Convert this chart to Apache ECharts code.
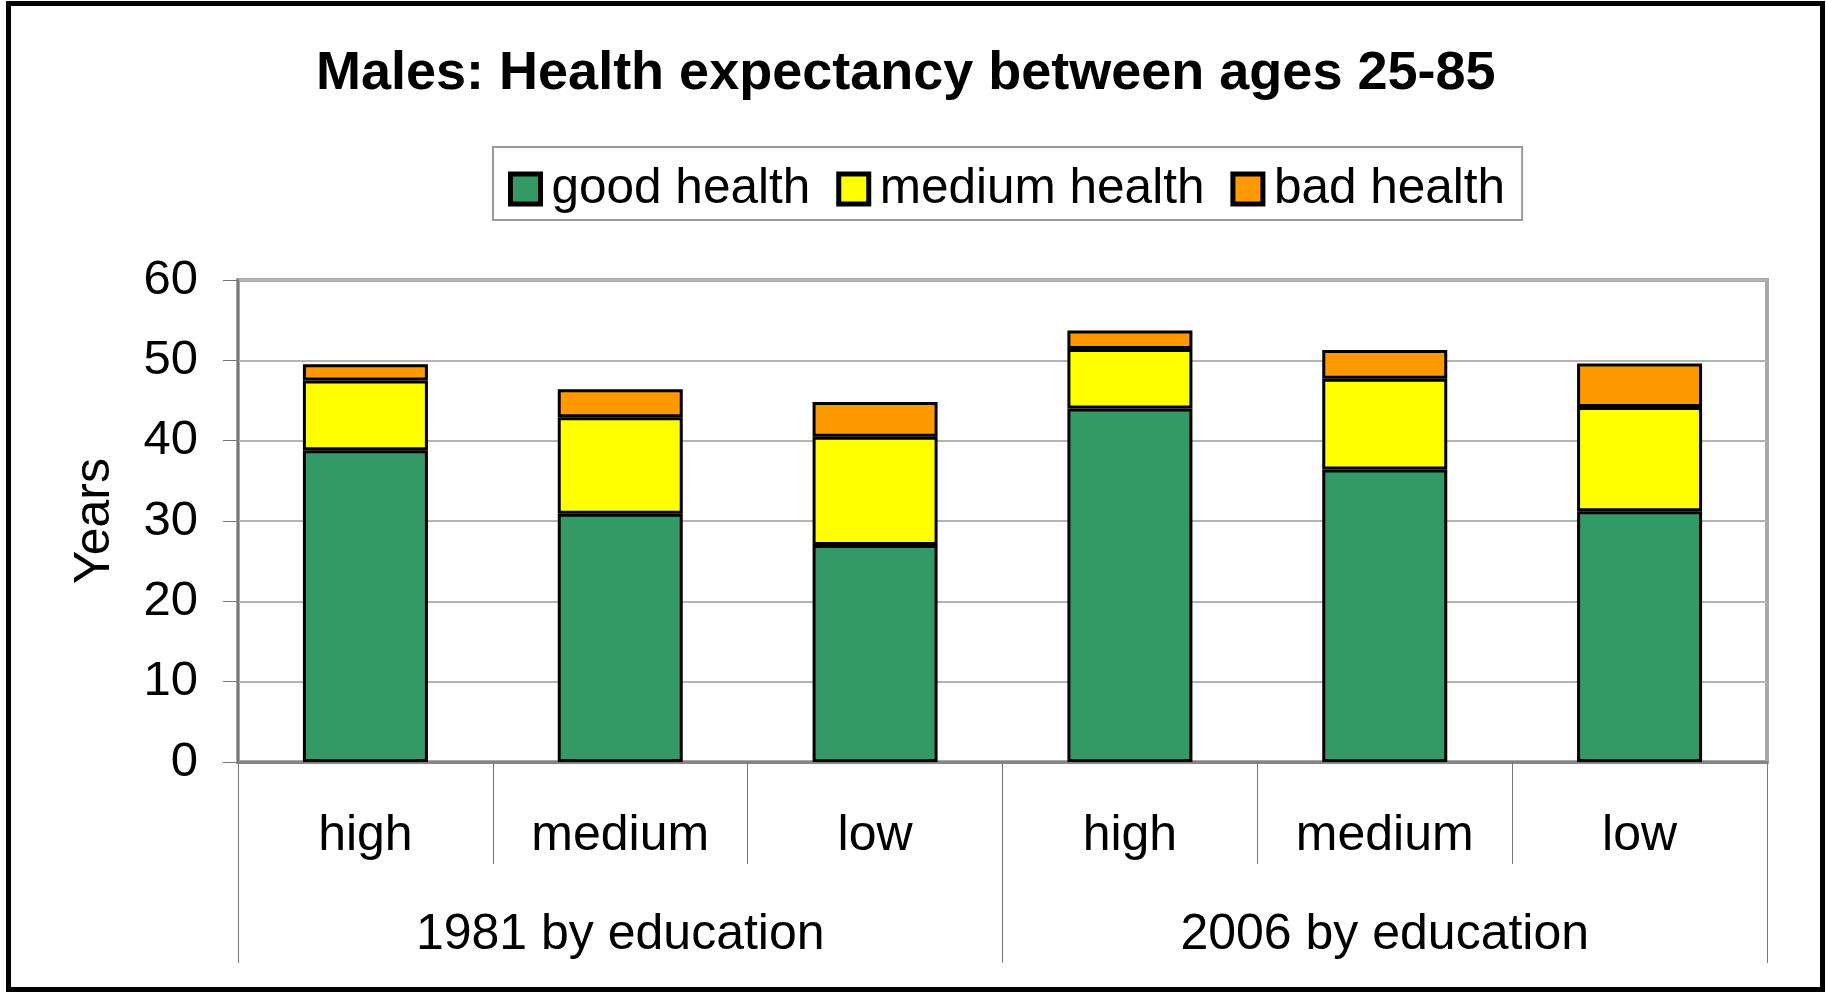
<!DOCTYPE html>
<html>
<head>
<meta charset="utf-8">
<script src="https://cdn.jsdelivr.net/npm/echarts@6/dist/echarts.min.js"></script>
<style>
html,body{margin:0;padding:0;background:#fff;}
#chart{width:1826px;height:993px;}
</style>
</head>
<body>
<div id="chart"></div>
<script>
const categories = ['high', 'medium', 'low', 'high', 'medium', 'low'];
const groups = ['1981 by education', '2006 by education'];
const goodHealth = [38.8, 30.9, 27.0, 44.0, 36.4, 31.2];
const mediumHealth = [8.7, 12.0, 13.5, 7.4, 11.3, 13.0];
const badHealth = [2.0, 3.5, 4.3, 2.3, 3.6, 5.4];
const seriesNames = ['good health', 'medium health', 'bad health'];
const colors = ['#339966', '#FFFF00', '#FF9900'];

const FONT = '"Liberation Sans", Arial, sans-serif';
const chart = echarts.init(document.getElementById('chart'), null, {renderer: 'canvas'});

function bar(name, data, color) {
  return {
    name: name, type: 'bar', stack: 'total', data: data,
    barWidth: 125,
    itemStyle: {color: color, borderColor: '#000', borderWidth: 3},
    emphasis: {disabled: true}
  };
}

chart.setOption({
  animation: false,
  backgroundColor: '#fff',
  textStyle: {fontFamily: FONT, color: '#000'},
  title: {
    text: 'Males: Health expectancy between ages 25-85',
    left: 311, top: 42,
    textStyle: {fontFamily: FONT, fontSize: 54, fontWeight: 'bold', color: '#000'}
  },
  legend: {
    left: 493, top: 147,
    padding: [17, 17, 6, 15],
    borderColor: '#9a9a9a', borderWidth: 2,
    itemGap: 26, itemWidth: 30, itemHeight: 30,
    icon: 'rect',
    itemStyle: {borderColor: '#000', borderWidth: 5},
    textStyle: {fontFamily: FONT, fontSize: 49.5, color: '#000', padding: [6, 0, 0, 6]},
    data: seriesNames
  },
  graphic: [{
    type: 'rect', silent: true, z: 100,
    shape: {x: 8.5, y: 3.5, width: 1814, height: 986},
    style: {fill: 'none', stroke: '#000', lineWidth: 5}
  }],
  grid: {
    left: 238, top: 280, width: 1529, height: 482,
    show: true, borderColor: '#a8a8a8', borderWidth: 4, backgroundColor: 'transparent'
  },
  xAxis: [{
    type: 'category', data: categories, position: 'bottom',
    axisLine: {show: true, lineStyle: {color: '#858585', width: 3}},
    axisTick: {show: true, length: 102, interval: 0, lineStyle: {color: '#777', width: 1}},
    axisLabel: {margin: 49, fontSize: 50, fontFamily: FONT, color: '#000', interval: 0},
    splitLine: {show: false}
  }, {
    type: 'category', data: groups, position: 'bottom',
    axisLine: {show: false},
    axisTick: {show: true, length: 201, interval: 0, lineStyle: {color: '#777', width: 1}},
    axisLabel: {margin: 148, fontSize: 50, fontFamily: FONT, color: '#000', interval: 0},
    splitLine: {show: false}
  }],
  yAxis: {
    type: 'value', min: 0, max: 60, interval: 10,
    name: 'Years', nameLocation: 'middle', nameGap: 118, nameRotate: 90,
    nameTextStyle: {fontFamily: FONT, fontSize: 50, color: '#000'},
    axisLine: {show: true, lineStyle: {color: '#777', width: 2}},
    axisTick: {show: true, length: 15, lineStyle: {color: '#777', width: 1}},
    axisLabel: {margin: 40, fontSize: 49, fontFamily: FONT, color: '#000'},
    splitLine: {show: true, lineStyle: {color: '#b4b4b4', width: 2}}
  },
  series: [
    bar(seriesNames[0], goodHealth, colors[0]),
    bar(seriesNames[1], mediumHealth, colors[1]),
    bar(seriesNames[2], badHealth, colors[2])
  ]
});
</script>
</body>
</html>
